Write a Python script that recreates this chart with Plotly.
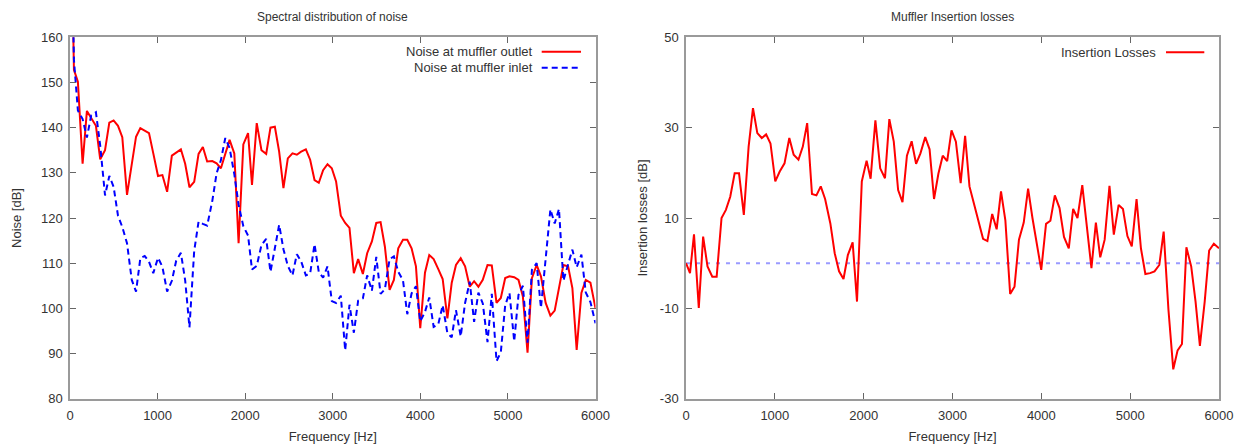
import plotly.graph_objects as go

# Frequency grid [Hz]
freq = [0, 45, 90, 144, 193, 242, 296, 345, 400, 449, 498, 548, 597, 651, 705, 754, 803, 853, 902, 951,
        1005, 1055, 1109, 1163, 1212, 1266, 1315, 1364, 1418, 1468, 1517, 1566, 1625, 1674, 1723, 1773, 1822, 1876, 1925, 1979,
        2033, 2078, 2132, 2186, 2240, 2289, 2339, 2388, 2437, 2487, 2540, 2590, 2639, 2693, 2742, 2792, 2841, 2890, 2940, 2989,
        3038, 3092, 3142, 3191, 3241, 3290, 3344, 3393, 3447, 3497, 3546, 3595, 3649, 3698, 3748, 3802, 3851, 3900, 3950, 3999,
        4053, 4102, 4152, 4205, 4255, 4309, 4358, 4407, 4461, 4511, 4564, 4614, 4663, 4713, 4767, 4816, 4870, 4919, 4969, 5018,
        5072, 5121, 5171, 5224, 5274, 5328, 5377, 5431, 5485, 5534, 5583, 5633, 5687, 5736, 5785, 5839, 5889, 5942, 6000]

# Noise at muffler outlet [dB]
outlet = [200, 152.8, 150.2, 132, 143.7, 142, 140.4, 133, 135, 141.1,
          141.6, 140.4, 137.9, 125.1, 132.1, 138, 139.9, 139.3, 138.8, 134.3,
          129.3, 129.5, 125.8, 133.8, 134.5, 135.2, 132, 126.8, 128, 134.2,
          135.7, 132.5, 132.6, 132.1, 131, 134.2, 137.3, 134.3, 114.4, 136.3,
          138.8, 127.3, 141, 135, 134.2, 140, 140.2, 134.7, 126.6, 133.2,
          134.3, 134, 134.7, 135.2, 132.9, 128.4, 127.8, 130.6, 131.9, 131,
          128.1, 120.5, 118.9, 117.8, 107.8, 110.9, 107.6, 112.2, 114.8, 118.9,
          119.1, 113.7, 104.1, 106.3, 113.3, 115.2, 115.2, 113.3, 109.3, 95.6,
          107.9, 111.8, 110.9, 108.7, 106.5, 97.8, 105.6, 109.6, 111.1, 109.3,
          104.8, 106, 104.8, 106.3, 109.6, 109.5, 101.2, 102.3, 106.7, 107.1,
          106.9, 106.3, 102.6, 90.2, 106.7, 109.6, 107.1, 101.2, 98.4, 99.5,
          104.1, 109.6, 109.3, 104.5, 90.8, 103.4, 106.3, 105.7, 100]

# Noise at muffler inlet [dB]
inlet = [200, 155, 143.8, 141.9, 137.8, 142.7, 143.4, 136, 125, 129.3,
         126.9, 120.5, 118, 114.4, 106.3, 103.7, 111.1, 111.6, 110.3, 107.8,
         111.2, 109.2, 103.7, 106.1, 110.5, 112.3, 106.2, 95.8, 112.7, 119.2,
         118.7, 118.3, 123.8, 129.9, 132.8, 137.7, 135.5, 129.7, 122.9, 118.2,
         116.1, 108.6, 109.4, 114, 115.4, 108.1, 113.3, 118.5, 113.1, 109.4,
         107.3, 112, 110.4, 107.3, 107.7, 114.2, 108, 106.8, 109.3, 101.6,
         101.2, 102.8, 90.7, 100.8, 94.6, 101.7, 102.2, 107.3, 103.9, 111.4,
         103.2, 104.2, 110.9, 111.5, 108.1, 106.2, 98.7, 103.3, 104.9, 97.1,
         99.2, 102.4, 95.9, 96.5, 100.7, 94.5, 93.6, 99.6, 93.8, 101.2,
         105.9, 97, 103.5, 101.1, 92.5, 103.2, 88.3, 90.3, 100.7, 103.4,
         92.7, 103, 105, 92.4, 108.5, 110, 100.1, 111.5, 121.9, 118.8,
         122, 106.1, 110, 113, 109.1, 111.9, 103.5, 101.4, 96.7]

# Insertion losses [dB]
insertion = [0, -2.2, 6.4, -9.9, 5.9, -0.7, -3, -3, 10, 11.8,
             14.7, 19.9, 19.9, 10.7, 25.8, 34.3, 28.8, 27.7, 28.5, 26.5,
             18.1, 20.3, 22.1, 27.7, 24, 22.9, 25.8, 31, 15.3, 15,
             17, 14.2, 8.8, 2.2, -1.8, -3.5, 1.8, 4.6, -8.5, 18.1,
             22.7, 18.7, 31.6, 21, 18.8, 31.9, 26.9, 16.2, 13.5, 23.8,
             27, 22, 24.3, 27.9, 25.2, 14.2, 19.8, 23.8, 22.6, 29.4,
             26.9, 17.7, 28.2, 17, 13.2, 9.2, 5.4, 4.9, 10.9, 7.5,
             15.9, 9.5, -6.8, -5.2, 5.2, 9, 16.5, 10, 4.4, -1.5,
             8.7, 9.4, 15, 12.2, 5.8, 3.3, 12, 10, 17.3, 8.1,
             -1.1, 9, 1.3, 5.2, 17.1, 6.3, 12.9, 12, 6, 3.7,
             14.2, 3.3, -2.4, -2.2, -1.8, -0.4, 7, -10.3, -23.5, -19.3,
             -17.9, 3.5, -0.7, -8.5, -18.3, -8.5, 2.8, 4.3, 3.3]

zero_x = [0, 6000]
zero_y = [0, 0]

x_ticks = [0, 1000, 2000, 3000, 4000, 5000, 6000]
noise_ticks = [80, 90, 100, 110, 120, 130, 140, 150, 160]
il_ticks = [-30, -10, 10, 30, 50]
il_tick_labels = ["-30", "-10", "10", "30", "50"]

W, H = 1244, 448
OFF = 8  # default page (body) margin of the browser
FONT = "Liberation Sans, Arial, Helvetica, sans-serif"
TXT = "#333333"
RED = "#ff0000"
BLUE = "#0000ff"

def px(x):
    return (x - OFF) / W

def py(y):
    return 1 - (y - OFF) / H

fig = go.Figure()
fig.add_trace(go.Scatter(x=freq, y=outlet, mode="lines", name="Noise at muffler outlet",
                         line=dict(color=RED, width=2), xaxis="x", yaxis="y", showlegend=False))
fig.add_trace(go.Scatter(x=freq, y=inlet, mode="lines", name="Noise at muffler inlet",
                         line=dict(color=BLUE, width=2, dash="6px,4px"), xaxis="x", yaxis="y", showlegend=False))
fig.add_trace(go.Scatter(x=zero_x, y=zero_y, mode="lines", name="0",
                         line=dict(color="#9a9aff", width=2, dash="4px,6px"), xaxis="x2", yaxis="y2", showlegend=False))
fig.add_trace(go.Scatter(x=freq, y=insertion, mode="lines", name="Insertion Losses",
                         line=dict(color=RED, width=2), xaxis="x2", yaxis="y2", showlegend=False))

axis_common = dict(showline=True, linecolor="#9a9a9a", linewidth=1.5, mirror="ticks",
                   ticks="inside", ticklen=6, tickwidth=1, tickcolor="#666666",
                   showgrid=False, zeroline=False, automargin=False,
                   tickfont=dict(family=FONT, size=13, color=TXT))

ytop, ybot = py(37.3), py(398.7)

fig.update_layout(
    template="none",
    width=W, height=H,
    margin=dict(l=0, r=0, t=0, b=0, pad=0),
    paper_bgcolor="white", plot_bgcolor="white",
    font=dict(family=FONT, size=13, color=TXT),
    xaxis=dict(domain=[px(70), px(595.5)], range=[0, 6000], tickvals=x_ticks, anchor="y",
               title=dict(text="Frequency [Hz]", standoff=10, font=dict(size=13, color=TXT)),
               ticklabelstandoff=4, **axis_common),
    yaxis=dict(domain=[ybot, ytop], range=[80, 160], tickvals=noise_ticks, anchor="x",
               title=dict(text="Noise [dB]", standoff=16, font=dict(size=13, color=TXT)),
               ticklabelstandoff=3, **axis_common),
    xaxis2=dict(domain=[px(686), px(1219)], range=[0, 6000], tickvals=x_ticks, anchor="y2",
                title=dict(text="Frequency [Hz]", standoff=10, font=dict(size=13, color=TXT)),
                ticklabelstandoff=4, **axis_common),
    yaxis2=dict(domain=[ybot, ytop], range=[-30, 50], tickvals=il_ticks, ticktext=il_tick_labels,
                anchor="x2",
                title=dict(text="Insertion losses [dB]", standoff=9, font=dict(size=13, color=TXT)),
                ticklabelstandoff=3, **axis_common),
)

annotations = [
    dict(text="Spectral distribution of noise", x=px(332.75), y=1, xref="paper", yref="paper",
         showarrow=False, xanchor="center", yanchor="top", font=dict(family=FONT, size=12, color=TXT)),
    dict(text="Muffler Insertion losses", x=px(952.5), y=1, xref="paper", yref="paper",
         showarrow=False, xanchor="center", yanchor="top", font=dict(family=FONT, size=12, color=TXT)),
    dict(text="Noise at muffler outlet", x=px(535), y=py(51.7), xref="paper", yref="paper",
         showarrow=False, xanchor="right", yanchor="middle", font=dict(family=FONT, size=13, color=TXT)),
    dict(text="Noise at muffler inlet", x=px(535), y=py(67.7), xref="paper", yref="paper",
         showarrow=False, xanchor="right", yanchor="middle", font=dict(family=FONT, size=13, color=TXT)),
    dict(text="Insertion Losses", x=px(1157.7), y=py(52.3), xref="paper", yref="paper",
         showarrow=False, xanchor="right", yanchor="middle", font=dict(family=FONT, size=13, color=TXT)),
]
shapes = [
    dict(type="line", xref="paper", yref="paper", x0=px(541.7), x1=px(581), y0=py(51.7), y1=py(51.7),
         line=dict(color=RED, width=2)),
    dict(type="line", xref="paper", yref="paper", x0=px(541.7), x1=px(581), y0=py(67.7), y1=py(67.7),
         line=dict(color=BLUE, width=2, dash="6px,4px")),
    dict(type="line", xref="paper", yref="paper", x0=px(1166), x1=px(1204.3), y0=py(52.3), y1=py(52.3),
         line=dict(color=RED, width=2)),
]
fig.update_layout(annotations=annotations, shapes=shapes)

fig.write_html("out.html")
